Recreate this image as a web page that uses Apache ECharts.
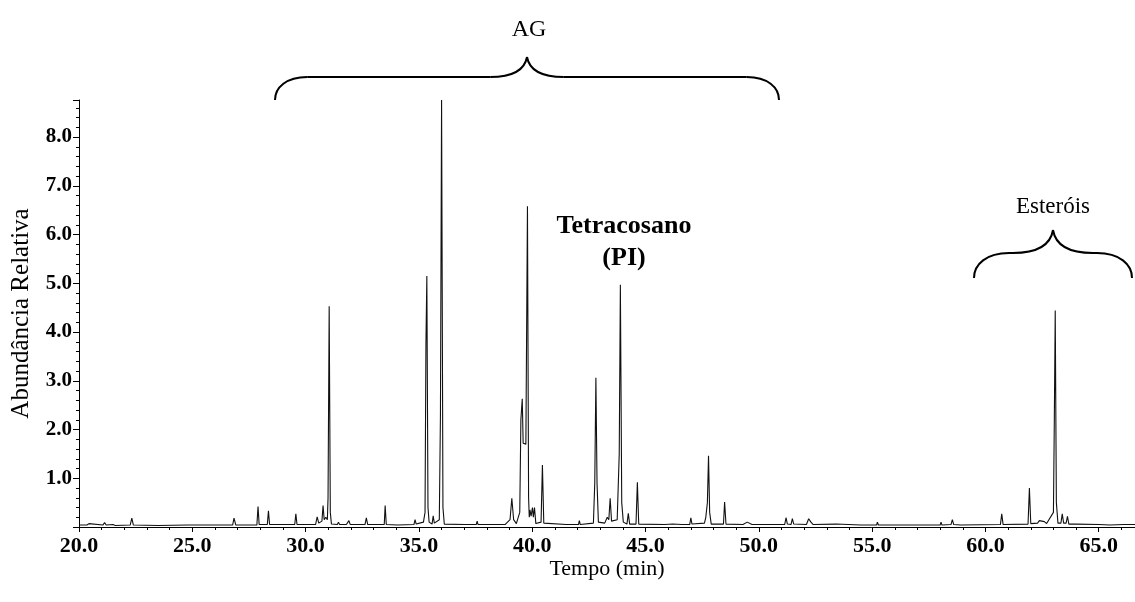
<!DOCTYPE html>
<html>
<head>
<meta charset="utf-8">
<script src="https://cdn.jsdelivr.net/npm/echarts@6/dist/echarts.min.js"></script>
<style>
  html, body { margin: 0; padding: 0; background: #fff; }
  #chart { width: 1135px; height: 602px; }
</style>
</head>
<body>
<div id="chart"></div>
<script>
  const tempo = [
    20.0, 20.35, 20.44, 20.52, 21.05, 21.13, 21.2, 21.5, 21.6, 22.26, 22.33, 22.4,
    23.5, 24.8, 26.78, 26.84, 26.92, 27.85, 27.9, 27.95, 28.31, 28.36, 28.41,
    29.52, 29.57, 29.62, 30.44, 30.51, 30.58, 30.66, 30.72, 30.77, 30.82, 30.89,
    30.96, 30.99, 31.04, 31.09, 31.14, 31.4, 31.45, 31.5, 31.7, 31.75, 31.8,
    31.86, 31.91, 31.97, 32.62, 32.68, 32.74, 33.47, 33.51, 33.56, 34.06, 34.1,
    34.14, 34.78, 34.83, 34.88, 35.2, 35.27, 35.31, 35.35, 35.4, 35.45, 35.58,
    35.63, 35.68, 35.9, 35.95, 36.0, 36.06, 36.12, 37.0, 37.53, 37.57, 37.61,
    37.97, 38.01, 38.05, 38.19, 38.23, 38.27, 38.8, 39.02, 39.1, 39.18, 39.3,
    39.45, 39.5, 39.56, 39.6, 39.66, 39.72, 39.79, 39.84, 39.87, 39.9, 39.95,
    40.01, 40.05, 40.1, 40.16, 40.39, 40.45, 40.51, 41.5, 42.04, 42.08, 42.12,
    42.7, 42.76, 42.81, 42.86, 42.92, 43.2, 43.31, 43.38, 43.44, 43.5, 43.75,
    43.84, 43.89, 43.95, 44.02, 44.18, 44.24, 44.3, 44.58, 44.64, 44.7, 45.85,
    45.9, 46.2, 46.6, 46.95, 47.0, 47.05, 47.6, 47.66, 47.73, 47.78, 47.83,
    47.9, 48.44, 48.49, 48.55, 49.3, 49.49, 49.7, 51.14, 51.2, 51.26, 51.42,
    51.48, 51.54, 52.1, 52.2, 52.3, 52.4, 53.41, 54.5, 55.2, 55.23, 55.28,
    57.2, 58.0, 58.04, 58.08, 58.48, 58.54, 58.6, 58.9, 58.93, 58.97, 60.66,
    60.72, 60.78, 61.88, 61.94, 62.0, 62.3, 62.38, 62.46, 62.6, 62.7, 63.0,
    63.04, 63.08, 63.13, 63.2, 63.33, 63.39, 63.45, 63.56, 63.62, 63.68, 64.0,
    65.0, 65.5, 66.1, 66.14, 66.2, 66.6
  ];
  const abundancia = [
    0.04, 0.04, 0.07, 0.04, 0.04, 0.09, 0.04, 0.05, 0.03, 0.04, 0.18, 0.04,
    0.03, 0.04, 0.04, 0.18, 0.04, 0.04, 0.42, 0.05, 0.05, 0.33, 0.05,
    0.05, 0.27, 0.05, 0.05, 0.21, 0.08, 0.1, 0.12, 0.44, 0.15, 0.2,
    0.15, 0.6, 4.53, 0.3, 0.06, 0.05, 0.1, 0.05, 0.05, 0.09, 0.05,
    0.06, 0.13, 0.05, 0.05, 0.19, 0.05, 0.05, 0.44, 0.05, 0.04, 0.08,
    0.04, 0.05, 0.15, 0.06, 0.1, 0.3, 3.77, 5.15, 0.4, 0.1, 0.06,
    0.23, 0.08, 0.15, 2.3, 8.76, 0.4, 0.06, 0.05, 0.05, 0.12, 0.05,
    0.05, 0.08, 0.05, 0.05, 0.09, 0.05, 0.05, 0.15, 0.59, 0.15, 0.07,
    0.3, 2.2, 2.63, 1.72, 1.72, 1.7, 6.58, 0.6, 0.2, 0.35, 0.22,
    0.4, 0.2, 0.4, 0.07, 0.1, 1.27, 0.08, 0.05, 0.05, 0.13, 0.05,
    0.08, 0.9, 3.06, 0.9, 0.1, 0.08, 0.2, 0.15, 0.59, 0.12, 0.15,
    1.5, 4.97, 0.5, 0.1, 0.06, 0.28, 0.06, 0.06, 0.92, 0.06, 0.05,
    0.07, 0.06, 0.05, 0.05, 0.19, 0.06, 0.08, 0.2, 0.5, 1.46, 0.3,
    0.06, 0.06, 0.51, 0.06, 0.05, 0.1, 0.05, 0.05, 0.19, 0.06, 0.05,
    0.17, 0.06, 0.05, 0.17, 0.1, 0.05, 0.06, 0.04, 0.04, 0.1, 0.04,
    0.04, 0.04, 0.1, 0.04, 0.05, 0.15, 0.05, 0.04, 0.07, 0.04, 0.05,
    0.27, 0.05, 0.06, 0.8, 0.07, 0.08, 0.13, 0.1, 0.11, 0.07, 0.3,
    2.2, 4.44, 0.5, 0.08, 0.08, 0.27, 0.08, 0.08, 0.22, 0.06, 0.06,
    0.05, 0.04, 0.05, 0.09, 0.05, 0.05
  ];
  const xTicks = [20, 25, 30, 35, 40, 45, 50, 55, 60, 65];
  const yTicks = [1, 2, 3, 4, 5, 6, 7, 8];

  const serif = "'Liberation Serif', 'Times New Roman', serif";
  const pontos = tempo.map((t, i) => [t, abundancia[i]]);

  // chave horizontal (so desenho, em pixels)
  function chave(x0, x1, xm, yTop, yArm, yEnd) {
    const r = (yEnd - yArm);
    const s = { fill: 'none', stroke: '#000', lineWidth: 2 };
    return [
      { type: 'bezierCurve', shape: { x1: x0, y1: yEnd, cpx1: x0, cpy1: yArm + 0.45 * r, cpx2: x0 + 0.5 * r, cpy2: yArm, x2: x0 + 1.4 * r, y2: yArm }, style: s },
      { type: 'line', shape: { x1: x0 + 1.4 * r, y1: yArm, x2: xm - 1.6 * r, y2: yArm }, style: s },
      { type: 'bezierCurve', shape: { x1: xm - 1.6 * r, y1: yArm, cpx1: xm - 0.6 * r, cpy1: yArm, cpx2: xm - 0.1 * r, cpy2: yArm - 0.35 * (yArm - yTop), x2: xm, y2: yTop }, style: s },
      { type: 'bezierCurve', shape: { x1: xm, y1: yTop, cpx1: xm + 0.1 * r, cpy1: yArm - 0.35 * (yArm - yTop), cpx2: xm + 0.6 * r, cpy2: yArm, x2: xm + 1.6 * r, y2: yArm }, style: s },
      { type: 'line', shape: { x1: xm + 1.6 * r, y1: yArm, x2: x1 - 1.4 * r, y2: yArm }, style: s },
      { type: 'bezierCurve', shape: { x1: x1 - 1.4 * r, y1: yArm, cpx1: x1 - 0.5 * r, cpy1: yArm, cpx2: x1, cpy2: yArm + 0.45 * r, x2: x1, y2: yEnd }, style: s }
    ];
  }

  const myChart = echarts.init(document.getElementById('chart'));
  const option = {
    animation: false,
    grid: { left: 79, right: 0, top: 100, bottom: 75, containLabel: false, outerBoundsMode: 'none' },
    xAxis: {
      type: 'value',
      min: 20,
      max: 66.6,
      interval: 5,
      name: 'Tempo (min)',
      nameLocation: 'middle',
      nameGap: 31,
      nameMoveOverlap: false,
      nameTextStyle: { fontFamily: serif, fontSize: 22, color: '#000' },
      axisLine: { lineStyle: { color: '#000', width: 1 } },
      axisTick: { length: 5, lineStyle: { color: '#000' } },
      minorTick: { show: true, splitNumber: 5, length: 3, lineStyle: { color: '#000' } },
      splitLine: { show: false },
      axisLabel: {
        margin: 8,
        fontFamily: serif, fontSize: 22, fontWeight: 'bold', color: '#000',
        showMaxLabel: false,
        formatter: v => xTicks.indexOf(v) >= 0 ? v.toFixed(1) : ''
      }
    },
    yAxis: {
      type: 'value',
      min: 0,
      max: 8.76,
      interval: 1,
      name: 'Abundância Relativa',
      nameLocation: 'middle',
      nameGap: 45,
      nameMoveOverlap: false,
      nameTextStyle: { fontFamily: serif, fontSize: 25, color: '#000' },
      axisLine: { show: true, lineStyle: { color: '#000', width: 1 } },
      axisTick: { show: true, length: 6, lineStyle: { color: '#000' } },
      minorTick: { show: true, splitNumber: 5, length: 3, lineStyle: { color: '#000' } },
      splitLine: { show: false },
      axisLabel: {
        margin: 7,
        fontFamily: serif, fontSize: 21, fontWeight: 'bold', color: '#000',
        formatter: v => yTicks.indexOf(v) >= 0 ? v.toFixed(1) : ''
      }
    },
    series: [{
      type: 'line',
      data: pontos,
      showSymbol: false,
      lineStyle: { color: '#111', width: 1.1 },
      z: 3
    }],
    graphic: chave(275, 779, 527, 57, 77, 100).concat(chave(974, 1132, 1053, 230, 253, 278), [
      {
        type: 'text', x: 529, y: 30,
        style: { text: 'AG', font: '24px ' + serif, fill: '#000', textAlign: 'center', textVerticalAlign: 'middle' }
      },
      {
        type: 'text', x: 1053, y: 207,
        style: { text: 'Esteróis', font: '23px ' + serif, fill: '#000', textAlign: 'center', textVerticalAlign: 'middle' }
      },
      {
        type: 'text', x: 624, y: 226,
        style: { text: 'Tetracosano', font: 'bold 26px ' + serif, fill: '#000', textAlign: 'center', textVerticalAlign: 'middle' }
      },
      {
        type: 'text', x: 624, y: 258,
        style: { text: '(PI)', font: 'bold 26px ' + serif, fill: '#000', textAlign: 'center', textVerticalAlign: 'middle' }
      }
    ])
  };
  myChart.setOption(option);
</script>
</body>
</html>
